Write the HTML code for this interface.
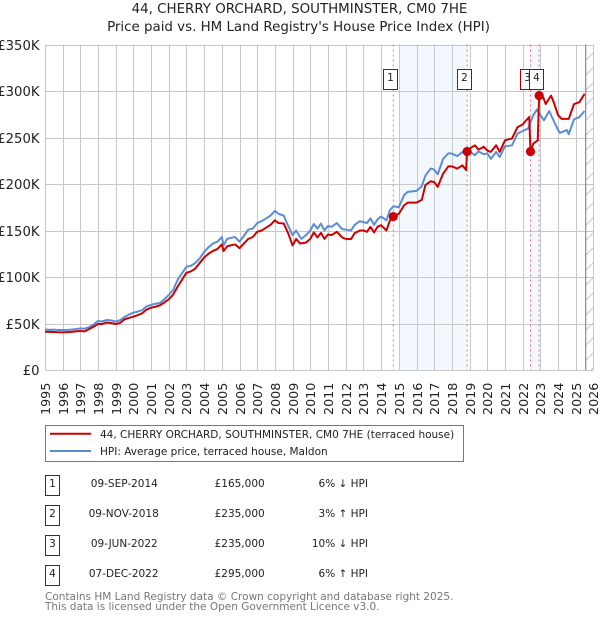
<!DOCTYPE html>
<html lang="en">
<head>
<meta charset="utf-8">
<title>44, Cherry Orchard price chart</title>
<style>
html,body{margin:0;padding:0;background:#fff;width:600px;height:620px;overflow:hidden}
svg{display:block;font-family:"DejaVu Sans","Liberation Sans",sans-serif}
</style>
</head>
<body>
<svg id="chart" xmlns="http://www.w3.org/2000/svg" width="600" height="620" viewBox="0 0 600 620">
  <defs>
    <pattern id="hatch" width="15" height="15" patternUnits="userSpaceOnUse" patternTransform="translate(586 0)">
      <path d="M-1 16L16 -1" stroke="#c8c8c8" stroke-width="1" fill="none"/>
    </pattern>
    <clipPath id="plot-clip"><rect x="45" y="44" width="549" height="327"/></clipPath>
  </defs>
  <text x="299.5" y="13" font-size="13.4" text-anchor="middle" fill="#222">44, CHERRY ORCHARD, SOUTHMINSTER, CM0 7HE</text>
  <text x="298.5" y="31" font-size="13.4" text-anchor="middle" fill="#222">Price paid vs. HM Land Registry's House Price Index (HPI)</text>
  <g id="bands"></g>
  <g id="grid"></g>
  <rect x="586" y="44.5" width="8" height="326" fill="url(#hatch)"/>
  <line x1="585.7" x2="585.7" y1="44.5" y2="370.5" stroke="#888" stroke-width="1.2"/>
  <g id="xlabels"></g>
  <g id="ylabels"></g>
  <g id="vlines"></g>
  <g id="series" clip-path="url(#plot-clip)"></g>
  <g id="markers"></g>

  <g>
    <rect x="45.5" y="425.5" width="418" height="36" fill="#fff" stroke="#777" stroke-width="1"/>
    <line x1="50" x2="91" y1="433.8" y2="433.8" stroke="#cc0000" stroke-width="2"/>
    <text x="100" y="438" font-size="10.5" fill="#222">44, CHERRY ORCHARD, SOUTHMINSTER, CM0 7HE (terraced house)</text>
    <line x1="50" x2="91" y1="451" y2="451" stroke="#5b8dd6" stroke-width="2"/>
    <text x="100" y="455" font-size="10.5" fill="#222">HPI: Average price, terraced house, Maldon</text>
  </g>

  <g font-size="10.5" fill="#222">
    <g>
      <rect x="45.5" y="475.5" width="14" height="20" fill="#fff" stroke="#aa0000"/>
      <text x="52.5" y="487" text-anchor="middle">1</text>
      <text x="124.3" y="487" text-anchor="middle">09-SEP-2014</text>
      <text x="264.7" y="487" text-anchor="end">£165,000</text>
      <text x="368" y="487" text-anchor="end">6% ↓ HPI</text>
    </g>
    <g>
      <rect x="45.5" y="505.5" width="14" height="20" fill="#fff" stroke="#aa0000"/>
      <text x="52.5" y="517" text-anchor="middle">2</text>
      <text x="123.7" y="517" text-anchor="middle">09-NOV-2018</text>
      <text x="264.7" y="517" text-anchor="end">£235,000</text>
      <text x="368" y="517" text-anchor="end">3% ↑ HPI</text>
    </g>
    <g>
      <rect x="45.5" y="535.5" width="14" height="20" fill="#fff" stroke="#aa0000"/>
      <text x="52.5" y="547" text-anchor="middle">3</text>
      <text x="124.3" y="547" text-anchor="middle">09-JUN-2022</text>
      <text x="264.7" y="547" text-anchor="end">£235,000</text>
      <text x="368" y="547" text-anchor="end">10% ↓ HPI</text>
    </g>
    <g>
      <rect x="45.5" y="565.5" width="14" height="20" fill="#fff" stroke="#aa0000"/>
      <text x="52.5" y="577" text-anchor="middle">4</text>
      <text x="123.7" y="577" text-anchor="middle">07-DEC-2022</text>
      <text x="264.7" y="577" text-anchor="end">£295,000</text>
      <text x="368" y="577" text-anchor="end">6% ↑ HPI</text>
    </g>
  </g>
  <text x="45" y="600" font-size="10.5" fill="#777">Contains HM Land Registry data © Crown copyright and database right 2025.</text>
  <text x="45" y="610" font-size="10.5" fill="#777">This data is licensed under the Open Government Licence v3.0.</text>
</svg>
<script>
var yearTicks = [1995,1996,1997,1998,1999,2000,2001,2002,2003,2004,2005,2006,2007,2008,2009,2010,2011,2012,2013,2014,2015,2016,2017,2018,2019,2020,2021,2022,2023,2024,2025,2026];
var valueTicks = [0,50,100,150,200,250,300,350];
var valueTickLabels = ["£0","£50K","£100K","£150K","£200K","£250K","£300K","£350K"];

var hpiDates = [1995,1995.25,1995.5,1995.75,1996,1996.25,1996.5,1996.75,1997,1997.25,1997.5,1997.75,1998,1998.25,1998.5,1998.75,1999,1999.25,1999.5,1999.75,2000,2000.25,2000.5,2000.75,2001,2001.25,2001.5,2001.75,2002,2002.25,2002.5,2002.75,2003,2003.25,2003.5,2003.75,2004,2004.25,2004.5,2004.75,2005,2005.1,2005.3,2005.5,2005.75,2006,2006.2,2006.5,2006.75,2007,2007.25,2007.5,2007.75,2008,2008.2,2008.5,2008.75,2009,2009.2,2009.42,2009.5,2009.75,2010,2010.2,2010.4,2010.6,2010.8,2011,2011.2,2011.5,2011.8,2012,2012.3,2012.5,2012.8,2013,2013.2,2013.4,2013.6,2013.8,2014,2014.3,2014.5,2014.7,2015,2015.3,2015.5,2016,2016.3,2016.5,2016.8,2017,2017.2,2017.5,2017.8,2018,2018.3,2018.6,2018.9,2019,2019.3,2019.5,2019.8,2020,2020.2,2020.5,2020.7,2021,2021.4,2021.7,2022,2022.3,2022.6,2022.8,2023,2023.2,2023.5,2023.7,2024,2024.1,2024.5,2024.6,2024.9,2025.2,2025.5];
var hpiValues = [43.7,43.2,43.4,43,43,43.1,43.4,44,44.7,44.4,46,48.8,52.6,52.3,53.7,53.4,52,53.5,57,59.5,61.6,62.8,64.4,68.5,70,71.2,72,76,80.5,86,96.7,104,111,112,115,120,127,132,136,138,143,134,141,142,143,138,143,151,152,158,160,163,166,171,168,166,155,145,150,143,141,145,150,157,152,157.5,150,155,154,158,151.5,151,150,156,160,159,158,163,156,162,165,161,172,176,175,188,191.5,192.6,197.6,209,216.6,215.5,210.5,227,233,232.7,230,234.5,232,235,231,235,232,233,227,234.5,229,240.6,241.6,254,257,259.6,274,280,274,268.5,278.5,270,258,255,258,253.5,269.6,272,278.5];

var priceDates = [1995,1995.25,1995.5,1995.75,1996,1996.25,1996.5,1996.75,1997,1997.25,1997.5,1997.75,1998,1998.25,1998.5,1998.75,1999,1999.25,1999.5,1999.75,2000,2000.25,2000.5,2000.75,2001,2001.25,2001.5,2001.75,2002,2002.25,2002.5,2002.75,2003,2003.25,2003.5,2003.75,2004,2004.25,2004.5,2004.75,2005,2005.1,2005.3,2005.5,2005.75,2006,2006.2,2006.5,2006.75,2007,2007.25,2007.5,2007.75,2008,2008.2,2008.5,2008.75,2009,2009.2,2009.42,2009.75,2010,2010.2,2010.4,2010.6,2010.8,2011,2011.2,2011.5,2011.8,2012,2012.3,2012.5,2012.8,2013,2013.2,2013.4,2013.6,2013.8,2014,2014.3,2014.5,2014.69,2015,2015.3,2015.5,2016,2016.3,2016.5,2016.8,2017,2017.2,2017.5,2017.8,2018,2018.3,2018.6,2018.8,2018.86,2019,2019.3,2019.5,2019.8,2020,2020.2,2020.5,2020.7,2021,2021.4,2021.7,2022,2022.2,2022.37,2022.44,2022.6,2022.85,2022.93,2023.15,2023.3,2023.6,2023.75,2024,2024.2,2024.6,2024.9,2025.2,2025.5];
var priceValues = [41.2,41,40.8,40.6,40.5,40.7,41,41.5,42,41.5,44,46.5,49.4,49.5,51,50.5,49.4,50.5,54.4,56,57.3,59,61,65,67,68,69.5,72.5,76,81,89.5,97,104.5,106,109,115,121,125,128,130,135,128,133,134,135,131,135,141,143,148.6,150,153,156,161,158,157.5,147,134,141,136,137,141,148,142.5,147.5,141,145.7,145,148.6,142.5,141,140.7,147,150,150,148.6,154,148,154,155.7,150,161,165,168,177,180,180,183,198.7,203,202,197,211,219,219,216.6,220,215,235,238,241.6,237,240,236,234.5,241.6,234.5,247,249,261,264,268.5,272,235,243.4,247,295,293.6,286,295,288,274,270,270,286,288,297];

var saleDates = [2014.69,2018.86,2022.44,2022.93];
var salePrices = [165,235,235,295];
var saleLabels = ["1","2","3","4"];
var bandStarts = [2015.0,2022.44];
var bandEnds = [2018.86,2022.93];

var NS = "http://www.w3.org/2000/svg";
function xPos(year){ return 44.8 + (year - 1995) * 17.7; }
function yPos(k){ return 370 - k / 50 * 46.5; }
function make(tag, attrs, parent){
  var el = document.createElementNS(NS, tag);
  for (var key in attrs) el.setAttribute(key, attrs[key]);
  parent.appendChild(el);
  return el;
}
var bands = document.getElementById("bands");
var grid = document.getElementById("grid");
var xlabels = document.getElementById("xlabels");
var ylabels = document.getElementById("ylabels");
var vlines = document.getElementById("vlines");
var seriesGroup = document.getElementById("series");
var markers = document.getElementById("markers");

bandStarts.forEach(function(start, i){
  var band = make("rect", {x: xPos(start), y: 44.5, width: xPos(bandEnds[i]) - xPos(start), height: 326, fill: "#f3f7fe"}, bands);
  
  
});

yearTicks.forEach(function(year){
  var px = Math.round(xPos(year)) + 0.5;
  var line = make("line", {x1: px, x2: px, y1: 44.5, y2: 370.5, stroke: "#c8c8c8", "stroke-width": 1}, grid);
  
  
  var label = make("text", {transform: "translate(" + (px + 4.5) + " 415) rotate(-90)", "font-size": 12.7, fill: "#222"}, xlabels);
  
  
  label.textContent = String(year);
});

valueTicks.forEach(function(value, i){
  var py = Math.round(yPos(value)) + 0.5;
  var line = make("line", {x1: 45, x2: 594, y1: py, y2: py, stroke: "#c8c8c8", "stroke-width": 1}, grid);
  
  
  var label = make("text", {x: 39.5, y: py + 4.5, "font-size": 13.2, "text-anchor": "end", fill: "#222"}, ylabels);
  
  
  label.textContent = valueTickLabels[i];
});

function pathFrom(dates, values){
  return dates.map(function(d, i){
    return (i ? "L" : "M") + xPos(d).toFixed(2) + " " + yPos(values[i]).toFixed(2);
  }).join("");
}
var hpiLine = make("path", {d: pathFrom(hpiDates, hpiValues), fill: "none", stroke: "#5b8dd6", "stroke-width": 2, "stroke-linejoin": "round"}, seriesGroup);


var priceLine = make("path", {d: pathFrom(priceDates, priceValues), fill: "none", stroke: "#cc0000", "stroke-width": 2, "stroke-linejoin": "round"}, seriesGroup);



saleDates.forEach(function(date, i){
  var px = xPos(date);
  var line = make("line", {x1: px, x2: px, y1: 44.5, y2: 370, stroke: "#f0707f", "stroke-width": 1, "stroke-dasharray": "2 3"}, vlines);
  
  
  var dot = make("circle", {cx: px, cy: yPos(salePrices[i]), r: 4.6, fill: "#cc0000"}, markers);
  
  
  var box = make("rect", {x: Math.round(px - 10) + 0.5, y: 69.5, width: 14, height: 20, fill: "#fff", stroke: "#aa0000", "stroke-width": 1}, markers);
  
  
  var text = make("text", {x: Math.round(px - 3) + 0.5, y: 81, "font-size": 10.5, "text-anchor": "middle", fill: "#222"}, markers);
  
  
  text.textContent = saleLabels[i];
});
</script>
</body>
</html>
